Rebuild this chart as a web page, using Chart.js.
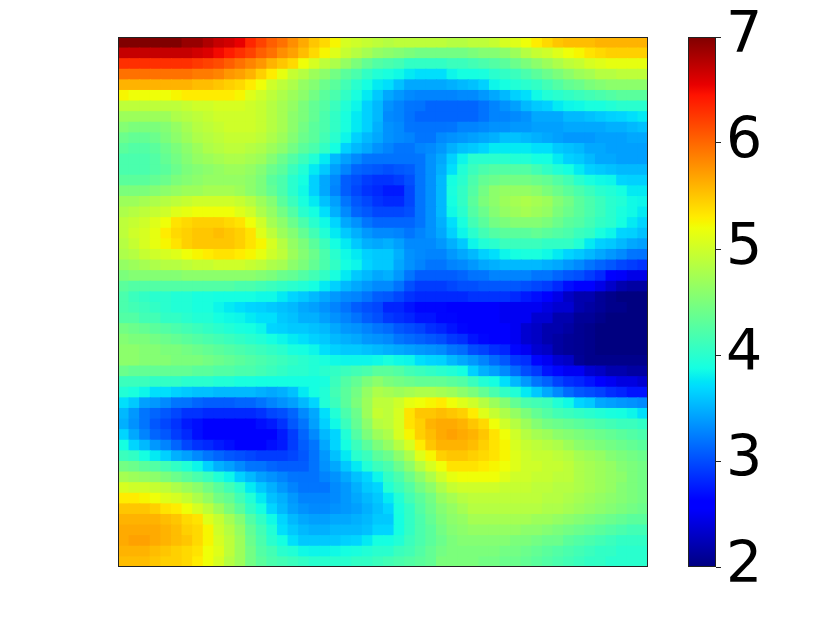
<!DOCTYPE html>
<html>
<head>
<meta charset="utf-8">
<style>
  html, body { margin: 0; padding: 0; background: #fff; }
  #wrap { position: relative; width: 822px; height: 617px; overflow: hidden; }
  canvas { position: absolute; top: 0; }
  #heat { left: 0; }
  #bar { left: 660px; }
</style>
<script src="https://cdn.jsdelivr.net/npm/chart.js@4"></script>
</head>
<body>
<div id="wrap">
  <canvas id="heat" width="660" height="617"></canvas>
  <canvas id="bar" width="162" height="617"></canvas>
</div>
<script>
const row00 = [7.0,7.0,7.0,7.0,7.0,7.0,6.9,6.9,6.8,6.7,6.65,6.55,6.35,6.2,6.05,5.95,5.8,5.65,5.5,5.4,5.25,5.05,5.0,4.95,4.9,4.85,4.9,4.9,4.9,4.9,4.9,4.85,4.85,4.9,4.9,4.95,5.05,5.1,5.2,5.3,5.4,5.5,5.55,5.55,5.55,5.6,5.6,5.6,5.6,5.6];
const row01 = [6.7,6.7,6.7,6.7,6.7,6.7,6.7,6.65,6.6,6.5,6.4,6.3,6.2,6.05,5.95,5.8,5.7,5.55,5.4,5.25,5.1,4.95,4.85,4.75,4.65,4.6,4.55,4.5,4.45,4.45,4.45,4.45,4.45,4.5,4.55,4.55,4.6,4.7,4.85,4.95,5.0,5.1,5.2,5.25,5.35,5.4,5.45,5.45,5.45,5.45];
const row02 = [6.3,6.3,6.3,6.3,6.3,6.3,6.3,6.25,6.2,6.15,6.05,5.95,5.85,5.75,5.6,5.5,5.4,5.2,5.05,4.9,4.8,4.65,4.5,4.35,4.25,4.2,4.15,4.05,4.05,4.05,4.05,4.1,4.1,4.15,4.2,4.25,4.3,4.4,4.5,4.6,4.7,4.8,4.9,4.95,5.05,5.1,5.15,5.15,5.15,5.15];
const row03 = [5.95,5.95,5.95,5.95,5.95,5.95,5.95,5.9,5.9,5.85,5.75,5.7,5.6,5.45,5.3,5.15,4.95,4.85,4.7,4.6,4.45,4.3,4.2,4.05,3.95,3.9,3.85,3.77,3.72,3.72,3.72,3.83,3.88,3.88,3.9,4.0,4.05,4.1,4.2,4.3,4.4,4.5,4.6,4.7,4.75,4.85,4.85,4.9,4.9,4.9];
const row04 = [5.6,5.6,5.6,5.6,5.6,5.6,5.6,5.55,5.55,5.5,5.45,5.4,5.3,5.2,5.0,4.9,4.8,4.65,4.55,4.4,4.3,4.15,4.0,3.88,3.77,3.72,3.57,3.45,3.45,3.45,3.45,3.49,3.53,3.57,3.65,3.83,3.88,3.95,4.0,4.05,4.15,4.25,4.35,4.4,4.5,4.55,4.6,4.6,4.6,4.6];
const row05 = [5.25,5.2,5.2,5.2,5.2,5.25,5.3,5.3,5.3,5.3,5.3,5.25,5.1,5.0,4.9,4.8,4.7,4.6,4.45,4.3,4.2,4.05,3.9,3.77,3.61,3.45,3.37,3.3,3.27,3.27,3.27,3.27,3.3,3.3,3.37,3.45,3.53,3.65,3.72,3.85,3.95,4.0,4.05,4.1,4.15,4.2,4.25,4.3,4.3,4.3];
const row06 = [4.9,4.9,4.9,4.9,4.9,4.9,4.95,5.0,5.0,5.05,5.05,5.05,5.0,4.95,4.85,4.75,4.65,4.5,4.35,4.25,4.1,3.95,3.83,3.65,3.53,3.34,3.27,3.2,3.19,3.12,3.12,3.12,3.12,3.12,3.19,3.27,3.34,3.41,3.53,3.61,3.65,3.77,3.83,3.85,3.9,3.9,3.95,4.0,4.0,4.0];
const row07 = [4.7,4.7,4.7,4.7,4.7,4.8,4.85,4.9,4.95,5.0,5.0,5.0,5.0,4.95,4.85,4.75,4.6,4.5,4.35,4.2,4.05,3.9,3.77,3.65,3.53,3.3,3.27,3.19,3.12,3.12,3.12,3.12,3.12,3.12,3.19,3.27,3.27,3.3,3.34,3.45,3.45,3.45,3.53,3.53,3.57,3.61,3.65,3.67,3.72,3.77];
const row08 = [4.55,4.5,4.5,4.5,4.55,4.65,4.75,4.85,4.9,4.95,5.0,5.0,5.0,4.95,4.85,4.75,4.6,4.45,4.3,4.2,4.05,3.9,3.77,3.65,3.49,3.34,3.3,3.2,3.19,3.19,3.19,3.2,3.27,3.27,3.3,3.34,3.34,3.37,3.37,3.41,3.41,3.41,3.45,3.45,3.45,3.45,3.49,3.49,3.53,3.57];
const row09 = [4.4,4.35,4.35,4.4,4.5,4.6,4.7,4.8,4.85,4.9,4.95,4.95,4.95,4.9,4.8,4.7,4.55,4.4,4.3,4.15,4.0,3.83,3.65,3.53,3.45,3.34,3.3,3.27,3.2,3.2,3.3,3.34,3.37,3.41,3.45,3.49,3.57,3.57,3.53,3.49,3.45,3.41,3.37,3.37,3.37,3.41,3.41,3.41,3.45,3.45];
const row10 = [4.3,4.25,4.25,4.3,4.4,4.5,4.6,4.7,4.8,4.85,4.9,4.9,4.85,4.8,4.7,4.6,4.45,4.3,4.2,4.05,3.88,3.65,3.53,3.45,3.34,3.27,3.2,3.2,3.27,3.3,3.37,3.49,3.57,3.61,3.67,3.77,3.77,3.77,3.77,3.72,3.72,3.61,3.57,3.53,3.45,3.45,3.41,3.41,3.41,3.41];
const row11 = [4.2,4.2,4.2,4.25,4.35,4.45,4.55,4.65,4.7,4.75,4.8,4.8,4.75,4.7,4.55,4.4,4.25,4.1,3.95,3.77,3.53,3.41,3.3,3.2,3.19,3.19,3.19,3.19,3.2,3.34,3.45,3.65,3.83,4.0,4.0,4.0,4.0,3.95,3.95,3.88,3.88,3.77,3.65,3.61,3.53,3.45,3.45,3.41,3.41,3.41];
const row12 = [4.2,4.2,4.2,4.25,4.3,4.4,4.5,4.55,4.6,4.65,4.7,4.7,4.65,4.55,4.4,4.3,4.1,3.95,3.77,3.61,3.41,3.27,3.12,3.08,3.05,3.01,3.05,3.08,3.2,3.34,3.49,3.72,3.95,4.1,4.2,4.25,4.25,4.25,4.25,4.15,4.05,3.95,3.88,3.77,3.65,3.61,3.57,3.53,3.53,3.53];
const row13 = [4.3,4.3,4.3,4.35,4.4,4.5,4.55,4.6,4.65,4.65,4.65,4.65,4.6,4.5,4.3,4.2,4.0,3.88,3.65,3.45,3.3,3.08,3.01,2.92,2.87,2.87,2.92,3.01,3.2,3.34,3.53,3.88,4.0,4.2,4.35,4.4,4.45,4.45,4.45,4.4,4.35,4.25,4.15,4.0,3.9,3.85,3.83,3.67,3.65,3.65];
const row14 = [4.5,4.5,4.5,4.55,4.6,4.65,4.7,4.7,4.75,4.75,4.75,4.7,4.6,4.5,4.35,4.2,4.0,3.85,3.65,3.45,3.27,3.08,2.97,2.87,2.82,2.75,2.75,2.97,3.2,3.34,3.53,3.9,4.05,4.25,4.45,4.6,4.65,4.65,4.65,4.6,4.5,4.4,4.3,4.2,4.1,4.0,3.95,3.88,3.77,3.77];
const row15 = [4.7,4.7,4.75,4.8,4.85,4.9,4.95,5.0,5.0,5.0,5.0,4.95,4.85,4.7,4.55,4.3,4.1,3.9,3.77,3.57,3.41,3.2,3.05,2.97,2.87,2.82,2.82,2.97,3.2,3.34,3.53,3.88,4.05,4.3,4.5,4.6,4.7,4.75,4.8,4.75,4.7,4.55,4.45,4.3,4.2,4.1,4.0,3.95,3.85,3.83];
const row16 = [4.8,4.85,4.9,4.95,5.0,5.1,5.15,5.2,5.2,5.2,5.2,5.1,5.0,4.8,4.65,4.45,4.25,4.0,3.88,3.72,3.49,3.3,3.12,3.05,2.97,2.97,2.97,3.01,3.2,3.34,3.53,3.85,4.0,4.25,4.4,4.55,4.65,4.7,4.75,4.7,4.65,4.5,4.4,4.3,4.2,4.1,4.0,3.9,3.85,3.77];
const row17 = [4.9,4.95,5.0,5.1,5.2,5.35,5.4,5.45,5.45,5.45,5.4,5.35,5.2,5.0,4.75,4.6,4.4,4.2,4.0,3.85,3.67,3.45,3.34,3.2,3.12,3.12,3.12,3.12,3.2,3.34,3.49,3.72,3.9,4.15,4.3,4.45,4.5,4.55,4.55,4.55,4.5,4.4,4.3,4.25,4.15,4.05,4.0,3.88,3.77,3.67];
const row18 = [4.9,5.0,5.05,5.15,5.3,5.4,5.45,5.5,5.5,5.55,5.5,5.45,5.35,5.1,4.9,4.7,4.55,4.35,4.15,3.95,3.77,3.61,3.49,3.37,3.3,3.3,3.27,3.2,3.27,3.34,3.45,3.65,3.83,4.0,4.15,4.25,4.3,4.3,4.3,4.35,4.3,4.25,4.2,4.1,4.05,3.9,3.83,3.67,3.65,3.57];
const row19 = [4.85,4.95,5.05,5.15,5.25,5.35,5.45,5.5,5.5,5.5,5.5,5.45,5.35,5.25,5.05,4.85,4.65,4.5,4.3,4.1,3.88,3.77,3.61,3.49,3.45,3.49,3.41,3.3,3.3,3.3,3.37,3.49,3.61,3.83,3.95,4.0,4.1,4.1,4.1,4.1,4.05,4.05,4.05,3.95,3.77,3.65,3.61,3.53,3.45,3.41];
const row20 = [4.8,4.85,4.95,5.0,5.05,5.1,5.2,5.25,5.3,5.35,5.35,5.3,5.25,5.15,5.0,4.9,4.7,4.55,4.4,4.2,4.0,3.85,3.77,3.65,3.61,3.61,3.49,3.34,3.3,3.27,3.27,3.37,3.45,3.53,3.65,3.72,3.83,3.88,3.9,3.9,3.85,3.77,3.67,3.61,3.53,3.45,3.37,3.3,3.2,3.19];
const row21 = [4.65,4.7,4.75,4.8,4.85,4.85,4.9,4.95,4.95,5.0,5.0,5.0,4.95,4.9,4.8,4.75,4.6,4.5,4.35,4.2,4.05,3.88,3.83,3.67,3.61,3.61,3.45,3.34,3.27,3.2,3.2,3.27,3.3,3.37,3.45,3.49,3.53,3.53,3.53,3.53,3.49,3.45,3.37,3.3,3.2,3.12,3.05,2.97,2.92,2.87];
const row22 = [4.5,4.55,4.55,4.55,4.55,4.55,4.6,4.6,4.6,4.6,4.6,4.6,4.6,4.55,4.5,4.4,4.35,4.25,4.15,4.05,3.9,3.77,3.61,3.53,3.45,3.49,3.37,3.2,3.08,3.08,3.08,3.08,3.12,3.19,3.2,3.27,3.27,3.27,3.27,3.2,3.2,3.12,3.05,3.01,2.92,2.82,2.62,2.53,2.45,2.45];
const row23 = [4.3,4.25,4.25,4.25,4.25,4.25,4.25,4.25,4.25,4.25,4.25,4.2,4.2,4.15,4.1,4.05,4.0,3.95,3.88,3.77,3.65,3.53,3.45,3.37,3.3,3.3,3.19,3.01,2.92,2.92,2.92,2.97,3.01,3.01,3.05,3.05,3.05,3.05,3.01,2.97,2.92,2.82,2.69,2.62,2.62,2.45,2.32,2.2,2.15,2.15];
const row24 = [4.2,4.1,4.05,4.0,4.0,3.95,3.95,3.9,3.9,3.88,3.88,3.88,3.88,3.85,3.85,3.77,3.67,3.61,3.53,3.45,3.37,3.3,3.27,3.19,3.08,3.05,2.97,2.87,2.82,2.82,2.82,2.82,2.82,2.87,2.87,2.87,2.87,2.82,2.75,2.69,2.55,2.45,2.3,2.2,2.2,2.1,2.05,2.0,2.0,2.0];
const row25 = [4.2,4.15,4.1,4.05,4.0,3.95,3.95,3.9,3.9,3.83,3.77,3.72,3.67,3.65,3.61,3.57,3.53,3.45,3.41,3.34,3.27,3.19,3.08,3.01,2.97,2.8,2.8,2.72,2.65,2.65,2.65,2.6,2.6,2.6,2.6,2.6,2.5,2.5,2.5,2.5,2.42,2.35,2.35,2.2,2.15,2.1,2.05,2.05,2.0,2.0];
const row26 = [4.25,4.25,4.15,4.15,4.05,4.05,4.0,3.95,3.95,3.88,3.85,3.83,3.77,3.72,3.72,3.61,3.57,3.49,3.49,3.41,3.34,3.27,3.19,3.08,3.01,2.9,2.85,2.8,2.72,2.72,2.65,2.65,2.6,2.6,2.6,2.6,2.5,2.5,2.5,2.35,2.35,2.2,2.2,2.1,2.1,2.05,2.0,2.0,2.0,2.0];
const row27 = [4.45,4.4,4.35,4.3,4.25,4.2,4.15,4.1,4.05,4.0,3.95,3.9,3.88,3.83,3.67,3.65,3.61,3.61,3.57,3.53,3.45,3.37,3.34,3.27,3.2,3.15,3.05,3.0,2.95,2.85,2.8,2.72,2.65,2.6,2.6,2.6,2.6,2.5,2.35,2.3,2.2,2.2,2.15,2.08,2.05,2.0,2.0,2.0,2.0,2.0];
const row28 = [4.55,4.5,4.5,4.45,4.4,4.35,4.3,4.25,4.2,4.15,4.1,4.05,4.0,3.95,3.88,3.83,3.77,3.72,3.65,3.61,3.53,3.49,3.45,3.37,3.34,3.3,3.2,3.15,3.1,3.05,3.0,2.9,2.85,2.72,2.65,2.6,2.6,2.5,2.35,2.3,2.2,2.15,2.1,2.08,2.05,2.0,2.0,2.0,2.0,2.0];
const row29 = [4.6,4.6,4.55,4.55,4.5,4.5,4.45,4.4,4.35,4.3,4.25,4.2,4.15,4.1,4.05,4.0,3.9,3.88,3.83,3.72,3.65,3.61,3.61,3.57,3.53,3.49,3.45,3.41,3.37,3.34,3.3,3.2,3.15,3.0,2.95,2.85,2.8,2.65,2.5,2.35,2.3,2.15,2.1,2.08,2.05,2.0,2.0,2.0,2.0,2.0];
const row30 = [4.6,4.6,4.55,4.55,4.55,4.5,4.5,4.5,4.45,4.4,4.35,4.3,4.25,4.2,4.15,4.1,4.05,4.0,3.95,3.9,3.85,3.83,3.83,3.83,3.85,3.9,3.85,3.83,3.72,3.67,3.65,3.53,3.45,3.37,3.27,3.15,3.05,2.9,2.85,2.65,2.5,2.35,2.3,2.1,2.05,2.05,2.05,2.05,2.05,2.05];
const row31 = [4.4,4.35,4.35,4.35,4.35,4.35,4.35,4.3,4.3,4.25,4.25,4.2,4.2,4.15,4.1,4.05,4.0,4.0,3.95,4.0,4.05,4.1,4.15,4.2,4.3,4.3,4.25,4.15,4.1,4.05,4.0,3.95,3.88,3.65,3.49,3.41,3.3,3.15,3.0,2.9,2.72,2.65,2.5,2.5,2.35,2.3,2.2,2.2,2.15,2.15];
const row32 = [4.1,4.1,4.1,4.05,4.05,4.05,4.0,4.0,4.0,3.95,3.95,3.9,3.9,3.88,3.88,3.88,3.88,3.88,3.88,3.9,4.1,4.25,4.35,4.5,4.6,4.5,4.45,4.4,4.35,4.35,4.35,4.3,4.25,4.1,3.95,3.88,3.72,3.53,3.37,3.2,3.1,2.95,2.85,2.8,2.72,2.6,2.5,2.42,2.42,2.35];
const row33 = [3.95,3.9,3.83,3.72,3.72,3.65,3.61,3.57,3.57,3.53,3.53,3.53,3.53,3.49,3.45,3.49,3.57,3.77,3.88,3.95,4.15,4.3,4.45,4.65,4.8,4.75,4.7,4.75,4.8,4.8,4.75,4.7,4.6,4.5,4.35,4.2,4.05,3.95,3.77,3.61,3.45,3.3,3.15,3.05,3.0,2.95,2.85,2.8,2.72,2.72];
const row34 = [3.72,3.61,3.41,3.37,3.3,3.2,3.19,3.12,3.08,3.08,3.08,3.12,3.12,3.19,3.27,3.34,3.41,3.53,3.67,3.95,4.1,4.3,4.5,4.7,4.9,4.9,5.0,5.15,5.2,5.25,5.3,5.2,5.1,5.0,4.85,4.7,4.55,4.35,4.2,4.15,4.1,3.95,3.85,3.67,3.61,3.45,3.41,3.37,3.34,3.3];
const row35 = [3.53,3.37,3.2,3.12,3.05,2.97,2.87,2.87,2.82,2.82,2.82,2.82,2.82,2.87,2.97,3.01,3.12,3.3,3.45,3.72,3.95,4.2,4.4,4.7,4.95,4.9,5.05,5.35,5.5,5.5,5.55,5.5,5.45,5.3,5.1,4.95,4.8,4.65,4.5,4.35,4.25,4.15,4.1,4.05,4.0,3.95,3.9,3.88,3.83,3.72];
const row36 = [3.49,3.34,3.2,3.05,2.97,2.87,2.75,2.69,2.62,2.62,2.62,2.62,2.62,2.69,2.75,2.87,3.05,3.2,3.41,3.65,3.85,4.1,4.35,4.6,4.85,4.9,5.05,5.35,5.45,5.6,5.65,5.65,5.6,5.5,5.4,5.2,5.0,4.85,4.7,4.55,4.45,4.4,4.35,4.3,4.25,4.2,4.15,4.1,4.1,4.05];
const row37 = [3.67,3.45,3.27,3.12,3.05,2.92,2.82,2.69,2.62,2.58,2.58,2.58,2.58,2.6,2.62,2.75,2.92,3.12,3.3,3.53,3.67,3.95,4.25,4.5,4.7,4.8,5.05,5.25,5.45,5.55,5.65,5.7,5.65,5.6,5.5,5.35,5.2,5.0,4.85,4.75,4.7,4.6,4.55,4.5,4.45,4.4,4.35,4.3,4.25,4.2];
const row38 = [3.88,3.67,3.53,3.37,3.27,3.12,2.97,2.87,2.82,2.75,2.69,2.62,2.62,2.62,2.69,2.75,2.92,3.08,3.2,3.45,3.67,3.88,4.1,4.3,4.5,4.65,4.85,5.05,5.3,5.5,5.6,5.6,5.6,5.55,5.45,5.35,5.25,5.05,4.95,4.9,4.85,4.8,4.7,4.6,4.55,4.5,4.45,4.4,4.35,4.3];
const row39 = [4.1,4.05,3.88,3.77,3.65,3.49,3.41,3.3,3.2,3.12,3.05,3.01,2.97,2.92,2.92,2.92,2.97,3.05,3.19,3.37,3.57,3.77,4.0,4.1,4.3,4.4,4.6,4.8,5.1,5.25,5.45,5.5,5.5,5.45,5.4,5.35,5.25,5.1,5.0,4.95,4.95,4.9,4.85,4.75,4.7,4.65,4.55,4.5,4.45,4.4];
const row40 = [4.45,4.4,4.3,4.25,4.15,4.05,3.95,3.83,3.65,3.49,3.41,3.3,3.2,3.19,3.12,3.08,3.08,3.08,3.19,3.34,3.45,3.61,3.77,3.95,4.1,4.2,4.4,4.6,4.85,5.05,5.2,5.35,5.35,5.35,5.3,5.25,5.2,5.1,5.0,5.0,4.95,4.95,4.9,4.8,4.75,4.7,4.65,4.55,4.5,4.45];
const row41 = [4.75,4.7,4.65,4.6,4.5,4.4,4.3,4.2,4.1,3.95,3.83,3.65,3.53,3.41,3.34,3.27,3.2,3.19,3.19,3.27,3.34,3.45,3.57,3.67,3.83,4.05,4.2,4.4,4.6,4.8,5.0,5.15,5.2,5.2,5.2,5.2,5.1,5.0,5.0,4.95,4.95,4.9,4.9,4.8,4.75,4.7,4.65,4.6,4.5,4.45];
const row42 = [5.05,5.0,5.0,4.95,4.9,4.8,4.7,4.6,4.45,4.3,4.15,4.0,3.77,3.61,3.49,3.37,3.27,3.2,3.2,3.2,3.3,3.37,3.49,3.61,3.67,3.95,4.1,4.25,4.45,4.6,4.8,4.95,5.0,5.0,5.0,5.0,4.95,4.95,4.95,4.9,4.9,4.85,4.85,4.8,4.75,4.7,4.65,4.55,4.5,4.45];
const row43 = [5.3,5.3,5.25,5.2,5.1,5.05,4.95,4.8,4.65,4.45,4.35,4.15,3.95,3.77,3.57,3.49,3.37,3.27,3.27,3.27,3.3,3.37,3.45,3.53,3.61,3.77,3.95,4.15,4.3,4.45,4.65,4.75,4.85,4.9,4.9,4.9,4.9,4.9,4.9,4.9,4.85,4.85,4.8,4.75,4.7,4.65,4.6,4.55,4.5,4.45];
const row44 = [5.5,5.5,5.5,5.45,5.35,5.3,5.2,5.05,4.9,4.7,4.5,4.3,4.05,3.88,3.67,3.53,3.41,3.34,3.3,3.3,3.34,3.37,3.41,3.49,3.57,3.67,3.9,4.05,4.25,4.4,4.55,4.65,4.75,4.85,4.85,4.85,4.85,4.85,4.85,4.85,4.8,4.8,4.75,4.7,4.65,4.6,4.55,4.5,4.45,4.4];
const row45 = [5.6,5.6,5.6,5.6,5.55,5.5,5.4,5.35,5.1,4.95,4.75,4.55,4.25,4.05,3.85,3.67,3.53,3.45,3.41,3.41,3.45,3.45,3.49,3.53,3.61,3.61,3.88,4.05,4.2,4.35,4.5,4.6,4.65,4.75,4.75,4.75,4.75,4.75,4.75,4.7,4.7,4.65,4.6,4.55,4.5,4.45,4.4,4.35,4.3,4.3];
const row46 = [5.65,5.65,5.65,5.65,5.6,5.55,5.45,5.4,5.25,5.0,4.85,4.65,4.35,4.15,3.95,3.72,3.61,3.53,3.49,3.49,3.53,3.53,3.53,3.57,3.67,3.67,3.88,4.05,4.2,4.3,4.45,4.55,4.6,4.65,4.65,4.65,4.65,4.65,4.6,4.6,4.55,4.5,4.45,4.4,4.35,4.3,4.25,4.2,4.15,4.15];
const row47 = [5.65,5.7,5.7,5.65,5.6,5.55,5.5,5.4,5.25,5.05,4.9,4.7,4.4,4.2,4.0,3.88,3.72,3.61,3.61,3.61,3.61,3.65,3.67,3.77,3.88,3.88,3.95,4.1,4.2,4.3,4.4,4.5,4.55,4.55,4.55,4.55,4.55,4.5,4.5,4.45,4.4,4.4,4.3,4.25,4.2,4.15,4.1,4.05,4.05,4.05];
const row48 = [5.6,5.6,5.6,5.55,5.5,5.45,5.4,5.35,5.2,5.1,4.9,4.7,4.45,4.25,4.15,4.0,3.95,3.85,3.83,3.83,3.85,3.88,3.9,3.95,4.0,4.0,4.1,4.15,4.25,4.35,4.45,4.5,4.5,4.5,4.5,4.5,4.45,4.45,4.4,4.35,4.3,4.25,4.2,4.15,4.1,4.05,4.05,4.0,4.0,4.0];
const row49 = [5.55,5.55,5.55,5.5,5.45,5.45,5.4,5.3,5.2,5.05,4.85,4.7,4.45,4.3,4.2,4.15,4.1,4.05,4.0,4.0,4.0,4.0,4.05,4.05,4.1,4.15,4.2,4.25,4.3,4.35,4.5,4.5,4.5,4.5,4.45,4.45,4.4,4.4,4.35,4.3,4.25,4.2,4.15,4.1,4.05,4.05,4.0,4.0,4.0,4.0];
const rows = [row00,row01,row02,row03,row04,row05,row06,row07,row08,row09,row10,row11,row12,row13,row14,row15,row16,row17,row18,row19,row20,row21,row22,row23,row24,row25,row26,row27,row28,row29,row30,row31,row32,row33,row34,row35,row36,row37,row38,row39,row40,row41,row42,row43,row44,row45,row46,row47,row48,row49];
const colorbarTicks = [2, 3, 4, 5, 6, 7];

// matplotlib jet
const jetR = [[0,0],[0.35,0],[0.66,1],[0.89,1],[1,0.5]];
const jetG = [[0,0],[0.125,0],[0.375,1],[0.64,1],[0.91,0],[1,0]];
const jetB = [[0,0.5],[0.11,1],[0.34,1],[0.65,0],[1,0]];

function channel(stops, t) {
    for (let i = 1; i < stops.length; i++) {
        if (t <= stops[i][0]) {
            const a = stops[i-1], b = stops[i];
            return a[1] + (b[1] - a[1]) * (t - a[0]) / (b[0] - a[0]);
        }
    }
    return stops[stops.length-1][1];
}
function jet(t) {
    t = Math.min(1, Math.max(0, t));
    const c = [jetR, jetG, jetB].map(s => Math.round(channel(s, t) * 255));
    return `rgb(${c[0]},${c[1]},${c[2]})`;
}
const valueColor = v => jet((v - colorbarTicks[0]) / (colorbarTicks[5] - colorbarTicks[0]));

const frame = {
    id: 'frame',
    afterDraw(chart) {
        const a = chart.chartArea, c = chart.ctx;
        c.save();
        c.strokeStyle = '#222';
        c.lineWidth = 1;
        c.strokeRect(a.left + 0.5, a.top + 0.5, a.right - a.left - 1, a.bottom - a.top - 1);
        c.restore();
    }
};

// squares overlap by about a pixel so no white seams show, hence the small shift
const cells = [], cellColors = [];
rows.forEach((row, y) => row.forEach((v, x) => {
    cells.push({ x: x + 0.55, y: y + 0.55 });
    cellColors.push(valueColor(v));
}));

new Chart(document.getElementById('heat'), {
    type: 'scatter',
    data: { datasets: [{ data: cells, pointStyle: 'rect', pointRadius: 8.3, pointBorderWidth: 0, pointBackgroundColor: cellColors }] },
    options: {
        responsive: false,
        animation: false,
        layout: { padding: { left: 118, right: 12, top: 37, bottom: 50 } },
        plugins: { legend: { display: false }, tooltip: { enabled: false } },
        scales: {
            x: { display: false, min: 0, max: rows[0].length },
            y: { display: false, min: 0, max: rows.length, reverse: true }
        }
    },
    plugins: [frame]
});

new Chart(document.getElementById('bar'), {
    type: 'bar',
    data: {
        labels: [''],
        datasets: [{
            data: [[colorbarTicks[0], colorbarTicks[5]]],
            barPercentage: 1,
            categoryPercentage: 1,
            backgroundColor(ctx) {
                const a = ctx.chart.chartArea;
                if (!a) return '#000';
                const g = ctx.chart.ctx.createLinearGradient(0, a.bottom, 0, a.top);
                [...jetR, ...jetG, ...jetB].map(s => s[0]).forEach(t => g.addColorStop(t, jet(t)));
                return g;
            }
        }]
    },
    options: {
        responsive: false,
        animation: false,
        layout: { padding: { left: 28, top: 37, bottom: 50 } },
        plugins: { legend: { display: false }, tooltip: { enabled: false } },
        scales: {
            x: { display: false },
            y: {
                position: 'right',
                min: colorbarTicks[0],
                max: colorbarTicks[5],
                afterFit(scale) {
                    scale.width = 106;
                    scale.paddingTop = 0;
                    scale.paddingBottom = 0;
                },
                border: { display: false },
                grid: { drawOnChartArea: false, drawTicks: true, tickLength: 5, color: '#222' },
                ticks: {
                    stepSize: 1,
                    padding: 5,
                    color: '#000',
                    font: { family: '"DejaVu Sans"', size: 57 }
                }
            }
        }
    },
    plugins: [frame]
});
</script>
</body>
</html>
